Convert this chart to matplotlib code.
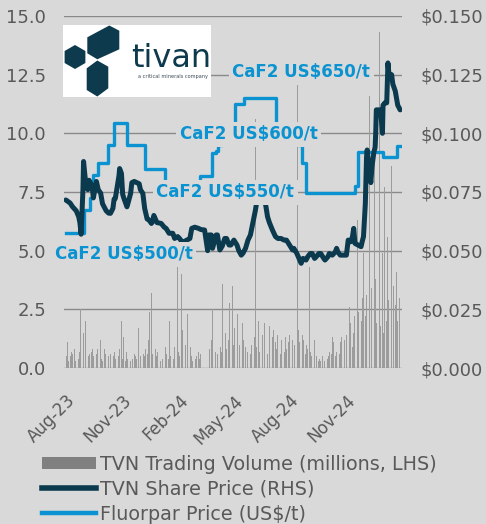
import pandas as pd
import matplotlib
matplotlib.use('Agg')
import matplotlib.pyplot as plt
import matplotlib.dates as mdates
from matplotlib.patches import Rectangle, Polygon, RegularPolygon, Patch
from matplotlib.lines import Line2D
from matplotlib.ticker import FuncFormatter

BG = '#d9d9d9'
NAVY = '#0b3a4f'
BLUE = '#0a93d0'
TXT = '#595959'

plt.rcParams['font.family'] = ['DejaVu Sans']

# daily TVN trading volume (millions), one value per trading day from 31 Jul 2023
vol_start = '2023-07-31'
volume = [
    1.2, 0.5, 0.4, 1.1, 0.3, 0.6, 0.5, 0.7, 0.4, 0.6,
    0.8, 0.5, 0.3, 0.6, 0.9, 0.4, 0.7, 1.0, 2.5, 2.6,
    4.4, 1.5, 4.4, 2.7, 2.0, 1.1, 0.8, 0.5, 0.9, 0.6,
    0.7, 0.4, 0.8, 0.5, 0.3, 0.9, 0.6, 0.4, 0.8, 0.5,
    0.6, 1.2, 0.4, 0.7, 0.3, 0.8, 0.5, 0.6, 0.9, 0.4,
    0.5, 0.8, 0.3, 0.6, 0.4, 1.0, 0.5, 0.3, 0.7, 0.4,
    0.6, 0.9, 0.5, 2.5, 0.8, 2.0, 0.6, 0.4, 1.3, 0.5,
    0.3, 0.7, 0.5, 0.4, 0.8, 0.6, 0.3, 0.5, 0.9, 0.4,
    0.6, 0.3, 0.5, 0.8, 0.4, 1.7, 0.6, 0.3, 0.5, 0.7,
    0.4, 0.6, 0.3, 0.5, 0.8, 0.4, 0.6, 1.2, 4.0, 2.4,
    3.2, 1.0, 0.6, 0.4, 2.5, 0.8, 0.5, 0.3, 0.7, 0.4,
    0.6, 0.3, 0.5, 1.1, 0.4, 0.7, 0.3, 0.9, 0.5, 0.6,
    0.4, 0.8, 2.0, 0.5, 1.0, 0.7, 0.4, 2.3, 0.9, 0.6,
    1.4, 4.4, 0.7, 1.2, 0.5, 4.0, 0.8, 1.6, 0.6, 6.8,
    1.0, 0.5, 1.1, 2.3, 0.7, 0.4, 0.9, 1.3, 0.5, 0.3,
    0.6, 0.8, 0.4, 0.3, 0.5, 0.7, 0.3, 0.4, 0.6, 0.0,
    0.0, 0.0, 0.0, 0.0, 0.0, 0.0, 0.0, 0.0, 4.2, 0.8,
    1.2, 0.6, 2.5, 0.9, 1.4, 0.7, 2.3, 1.1, 0.6, 1.6,
    2.0, 0.9, 1.3, 0.7, 3.6, 1.0, 0.6, 1.5, 1.8, 0.8,
    1.2, 0.5, 2.75, 1.4, 0.8, 3.5, 1.0, 0.6, 1.7, 0.9,
    1.3, 2.3, 0.7, 1.5, 1.0, 4.6, 0.8, 1.9, 0.6, 1.2,
    0.9, 2.3, 1.4, 0.7, 1.8, 1.1, 0.6, 2.6, 1.0, 1.5,
    0.8, 1.3, 10.6, 1.7, 0.9, 2.0, 1.2, 0.7, 1.6, 1.0,
    1.4, 3.2, 0.8, 1.9, 1.1, 2.0, 0.6, 1.5, 1.0, 1.8,
    2.8, 0.9, 1.3, 0.7, 1.6, 1.1, 2.5, 0.8, 1.4, 1.0,
    1.7, 0.6, 3.2, 1.2, 0.9, 1.5, 0.7, 1.3, 1.6, 0.8,
    1.1, 0.6, 1.4, 0.9, 2.3, 1.2, 0.7, 1.5, 1.0, 1.8,
    1.3, 12.1, 0.9, 1.6, 1.1, 2.0, 0.7, 1.4, 0.9, 1.2,
    0.6, 2.3, 1.0, 0.8, 1.3, 4.3, 0.7, 1.1, 0.5, 0.9,
    0.6, 1.2, 0.4, 0.8, 0.5, 0.3, 0.7, 0.4, 0.6, 0.3,
    0.5, 0.8, 0.4, 0.3, 0.6, 0.9, 0.4, 1.0, 0.5, 0.7,
    1.2, 0.6, 1.3, 0.8, 1.1, 0.5, 1.3, 0.7, 1.0, 1.2,
    0.6, 1.1, 0.8, 1.3, 0.5, 0.9, 1.2, 0.7, 1.0, 1.4,
    0.8, 1.6, 2.6, 1.2, 1.9, 0.9, 2.75, 1.5, 2.2, 1.0,
    3.9, 6.3, 1.8, 2.4, 1.3, 7.2, 2.0, 3.0, 1.6, 4.9,
    2.2, 1.5, 3.1, 2.6, 1.4, 11.6, 2.8, 1.9, 3.4, 2.1,
    1.6, 10.7, 2.5, 3.8, 1.9, 6.9, 2.4, 14.3, 3.0, 1.8,
    4.9, 2.2, 1.5, 7.7, 3.1, 2.0, 5.6, 1.7, 2.9, 3.6,
    1.4, 8.6, 2.3, 1.8, 3.5, 2.7, 1.2, 4.1, 7.6, 2.0,
    3.0, 4.9, 2.0,
]

# TVN share price (A$)
price_dates = [
    '2023-07-31', '2023-08-07', '2023-08-11', '2023-08-17', '2023-08-21', '2023-08-23',
    '2023-08-25', '2023-08-28', '2023-08-29', '2023-09-01', '2023-09-05', '2023-09-07',
    '2023-09-12', '2023-09-14', '2023-09-19', '2023-09-22', '2023-09-26', '2023-09-29',
    '2023-10-05', '2023-10-09', '2023-10-12', '2023-10-16', '2023-10-18', '2023-10-20',
    '2023-10-24', '2023-10-26', '2023-10-27', '2023-10-30', '2023-11-01', '2023-11-03',
    '2023-11-08', '2023-11-10', '2023-11-14', '2023-11-16', '2023-11-20', '2023-11-24',
    '2023-11-28', '2023-11-30', '2023-12-04', '2023-12-07', '2023-12-11', '2023-12-14',
    '2023-12-18', '2023-12-20', '2023-12-22', '2023-12-27', '2024-01-03', '2024-01-08',
    '2024-01-11', '2024-01-16', '2024-01-22', '2024-01-25', '2024-01-30', '2024-02-02',
    '2024-02-06', '2024-02-09', '2024-02-14', '2024-02-19', '2024-02-22', '2024-02-27',
    '2024-03-04', '2024-03-08', '2024-03-14', '2024-03-19', '2024-03-21', '2024-03-25',
    '2024-03-27', '2024-04-02', '2024-04-04', '2024-04-08', '2024-04-12', '2024-04-16',
    '2024-04-19', '2024-04-23', '2024-04-26', '2024-05-01', '2024-05-06', '2024-05-09',
    '2024-05-13', '2024-05-16', '2024-05-20', '2024-05-24', '2024-05-28', '2024-06-03',
    '2024-06-05', '2024-06-07', '2024-06-11', '2024-06-14', '2024-06-18', '2024-06-21',
    '2024-06-25', '2024-06-28', '2024-07-03', '2024-07-08', '2024-07-12', '2024-07-17',
    '2024-07-22', '2024-07-26', '2024-07-31', '2024-08-05', '2024-08-07', '2024-08-12',
    '2024-08-15', '2024-08-19', '2024-08-22', '2024-08-27', '2024-08-30', '2024-09-03',
    '2024-09-06', '2024-09-10', '2024-09-13', '2024-09-17', '2024-09-20', '2024-09-25',
    '2024-09-27', '2024-10-02', '2024-10-04', '2024-10-09', '2024-10-14', '2024-10-16',
    '2024-10-18', '2024-10-22', '2024-10-28', '2024-11-01', '2024-11-04', '2024-11-08',
    '2024-11-11', '2024-11-13', '2024-11-15', '2024-11-20', '2024-11-25', '2024-11-27',
    '2024-11-29', '2024-12-02', '2024-12-04', '2024-12-05', '2024-12-09', '2024-12-11',
    '2024-12-13', '2024-12-16', '2024-12-18', '2024-12-19', '2024-12-20', '2024-12-24',
    '2024-12-27', '2024-12-30', '2024-12-31', '2025-01-03', '2025-01-06', '2025-01-08',
    '2025-01-09', '2025-01-10', '2025-01-14', '2025-01-16', '2025-01-20', '2025-01-22',
    '2025-01-24', '2025-01-28',
]
price = [
    0.0716, 0.0703, 0.0687, 0.0670, 0.0645, 0.0620,
    0.0570, 0.0760, 0.0880, 0.0800, 0.0760, 0.0800,
    0.0775, 0.0725, 0.0795, 0.0760, 0.0745, 0.0700,
    0.0670, 0.0660, 0.0659, 0.0680, 0.0720, 0.0723,
    0.0787, 0.0820, 0.0850, 0.0829, 0.0740, 0.0723,
    0.0687, 0.0705, 0.0744, 0.0790, 0.0795, 0.0790,
    0.0785, 0.0760, 0.0744, 0.0680, 0.0635, 0.0631,
    0.0616, 0.0625, 0.0650, 0.0620, 0.0616, 0.0600,
    0.0595, 0.0574, 0.0574, 0.0552, 0.0560, 0.0552,
    0.0538, 0.0538, 0.0545, 0.0552, 0.0595, 0.0600,
    0.0595, 0.0590, 0.0588, 0.0500, 0.0567, 0.0567,
    0.0510, 0.0567, 0.0567, 0.0503, 0.0520, 0.0552,
    0.0552, 0.0524, 0.0524, 0.0545, 0.0524, 0.0500,
    0.0481, 0.0490, 0.0510, 0.0545, 0.0567, 0.0645,
    0.0670, 0.0702, 0.0760, 0.0780, 0.0775, 0.0710,
    0.0645, 0.0620, 0.0588, 0.0560, 0.0552, 0.0552,
    0.0545, 0.0545, 0.0524, 0.0503, 0.0510, 0.0488,
    0.0470, 0.0446, 0.0467, 0.0460, 0.0475, 0.0488,
    0.0488, 0.0467, 0.0475, 0.0488, 0.0488, 0.0467,
    0.0460, 0.0475, 0.0488, 0.0481, 0.0495, 0.0510,
    0.0495, 0.0481, 0.0481, 0.0481, 0.0545, 0.0538,
    0.0560, 0.0595, 0.0531, 0.0524, 0.0517, 0.0540,
    0.0560, 0.0700, 0.0900, 0.0929, 0.0830, 0.0790,
    0.0860, 0.0920, 0.0940, 0.1000, 0.1100, 0.1100,
    0.1100, 0.1000, 0.1120, 0.1130, 0.1130, 0.1300,
    0.1270, 0.1250, 0.1250, 0.1210, 0.1180, 0.1150,
    0.1120, 0.1100,
]

# Fluorspar (CaF2) price, US$/t, step changes
fluor_dates = [
    '2023-07-31', '2023-08-30', '2023-09-08', '2023-09-14', '2023-09-21', '2023-10-08',
    '2023-10-17', '2023-11-08', '2023-12-08', '2024-01-09', '2024-03-07', '2024-03-26',
    '2024-04-01', '2024-04-05', '2024-04-11', '2024-05-03', '2024-05-17', '2024-07-09',
    '2024-08-12', '2024-08-21', '2024-08-27', '2024-11-15', '2024-11-20', '2024-12-31',
    '2025-01-23', '2025-01-31',
]
fluor = [
    500, 526, 539, 565, 578, 598,
    623, 598, 571, 555, 564, 589,
    591, 598, 611, 644, 650, 611,
    598, 578, 545, 552, 590, 585,
    597, 597,
]

caf2_text = ['CaF2 US$500/t', 'CaF2 US$550/t', 'CaF2 US$600/t', 'CaF2 US$650/t']
caf2_date = ['2023-11-03', '2024-04-17', '2024-05-25', '2024-08-19']
caf2_level = [4.85, 7.48, 9.97, 12.6]

tick_dates = ['2023-08-01', '2023-11-01', '2024-02-01', '2024-05-01', '2024-08-01', '2024-11-01']

vol_dates = pd.bdate_range(vol_start, periods=len(volume))
price_dates = pd.to_datetime(price_dates)
fluor_dates = pd.to_datetime(fluor_dates)

fig = plt.figure(figsize=(4.86, 5.24), dpi=100, facecolor=BG)
ax = fig.add_axes([64/486, 1-368/524, 338/486, 352/524], facecolor=BG)
ax3 = ax.twinx()
ax2 = ax.twinx()

ax.bar(vol_dates, volume, width=0.8, color='#9c9c9c', linewidth=0, zorder=2)
ax.set_ylim(0, 15)
ax.set_yticks([0, 2.5, 5, 7.5, 10, 12.5, 15])
ax.yaxis.set_major_formatter(FuncFormatter(lambda v, p: f'{v:.1f}'))
ax.grid(axis='y', color='#8a8a8a', linewidth=1.0, zorder=0)
ax.set_axisbelow(True)

ax3.step(fluor_dates, fluor, where='post', color=BLUE, linewidth=2.4)
ax3.set_ylim(350, 350 + 15/0.0383)
ax3.axis('off')

ax2.plot(price_dates, price, color=NAVY, linewidth=3.6, solid_joinstyle='round', solid_capstyle='round')
ax2.set_ylim(0, 0.15)
ax2.set_yticks([0, 0.025, 0.05, 0.075, 0.1, 0.125, 0.15])
ax2.yaxis.set_major_formatter(FuncFormatter(lambda v, p: f'${v:.3f}'))

for s, d, lv in zip(caf2_text, caf2_date, caf2_level):
    ax2.text(pd.Timestamp(d), lv, s, transform=ax.transData, ha='center', va='center',
             fontsize=12, fontweight='bold', color=BLUE, zorder=10,
             bbox=dict(facecolor=BG, edgecolor='none', pad=2.5))

ax.set_xlim(pd.Timestamp('2023-07-28'), pd.Timestamp('2025-01-31'))
ax.set_xticks(pd.to_datetime(tick_dates))
ax.xaxis.set_major_formatter(mdates.DateFormatter('%b-%y'))

for a in (ax, ax2, ax3):
    for sp in a.spines.values():
        sp.set_visible(False)
ax.tick_params(axis='both', length=0, labelsize=13, labelcolor=TXT)
ax.tick_params(axis='y', pad=13)
ax.tick_params(axis='x', pad=17, labelsize=12)
ax2.tick_params(axis='y', length=0, labelsize=13, labelcolor=TXT, pad=13)
for lab in ax.get_xticklabels():
    lab.set_rotation(45)
    lab.set_ha('right')
    lab.set_va('top')
    lab.set_rotation_mode('anchor')

# logo
lg = fig.add_axes([63/486, 1-97/524, 148/486, 72/524])
lg.set_xlim(63, 211)
lg.set_ylim(97, 25)
lg.axis('off')
lg.add_patch(Rectangle((63, 25), 148, 72, facecolor='white', edgecolor='none'))
logo_c = '#0d3a4c'
lg.add_patch(RegularPolygon((75, 57), 6, radius=12, orientation=0, facecolor=logo_c, edgecolor='none'))
lg.add_patch(Polygon([(87.3, 37.3), (109.3, 25.5), (119.3, 30.7), (119.3, 49.3), (97.3, 59.3), (87.3, 53.3)],
                     facecolor=logo_c, edgecolor='none'))
lg.add_patch(Polygon([(86.7, 68.3), (97.3, 60.5), (108.3, 66.7), (108.3, 88.3), (97.3, 96.5), (86.7, 90)],
                     facecolor=logo_c, edgecolor='none'))
lg.text(171, 67, 'tivan', ha='center', va='baseline', fontsize=23, color=logo_c)
lg.text(172.5, 76.5, 'a critical minerals company', ha='center', va='center', fontsize=3.6, color='#3a4a55')

handles = [Patch(facecolor='#808080', edgecolor='none'),
           Line2D([], [], color=NAVY, linewidth=4.0),
           Line2D([], [], color=BLUE, linewidth=3.2)]
labels = ['TVN Trading Volume (millions, LHS)', 'TVN Share Price (RHS)', 'Fluorpar Price (US$/t)']
leg = fig.legend(handles, labels, loc='upper left', bbox_to_anchor=(42/486, 1-455/524),
                 frameon=False, fontsize=13.8, handlelength=2.8, handleheight=0.55,
                 handletextpad=0.2, labelspacing=0.3, borderpad=0, borderaxespad=0)
for t in leg.get_texts():
    t.set_color(TXT)

fig.savefig('out.png', dpi=100, facecolor=BG)
